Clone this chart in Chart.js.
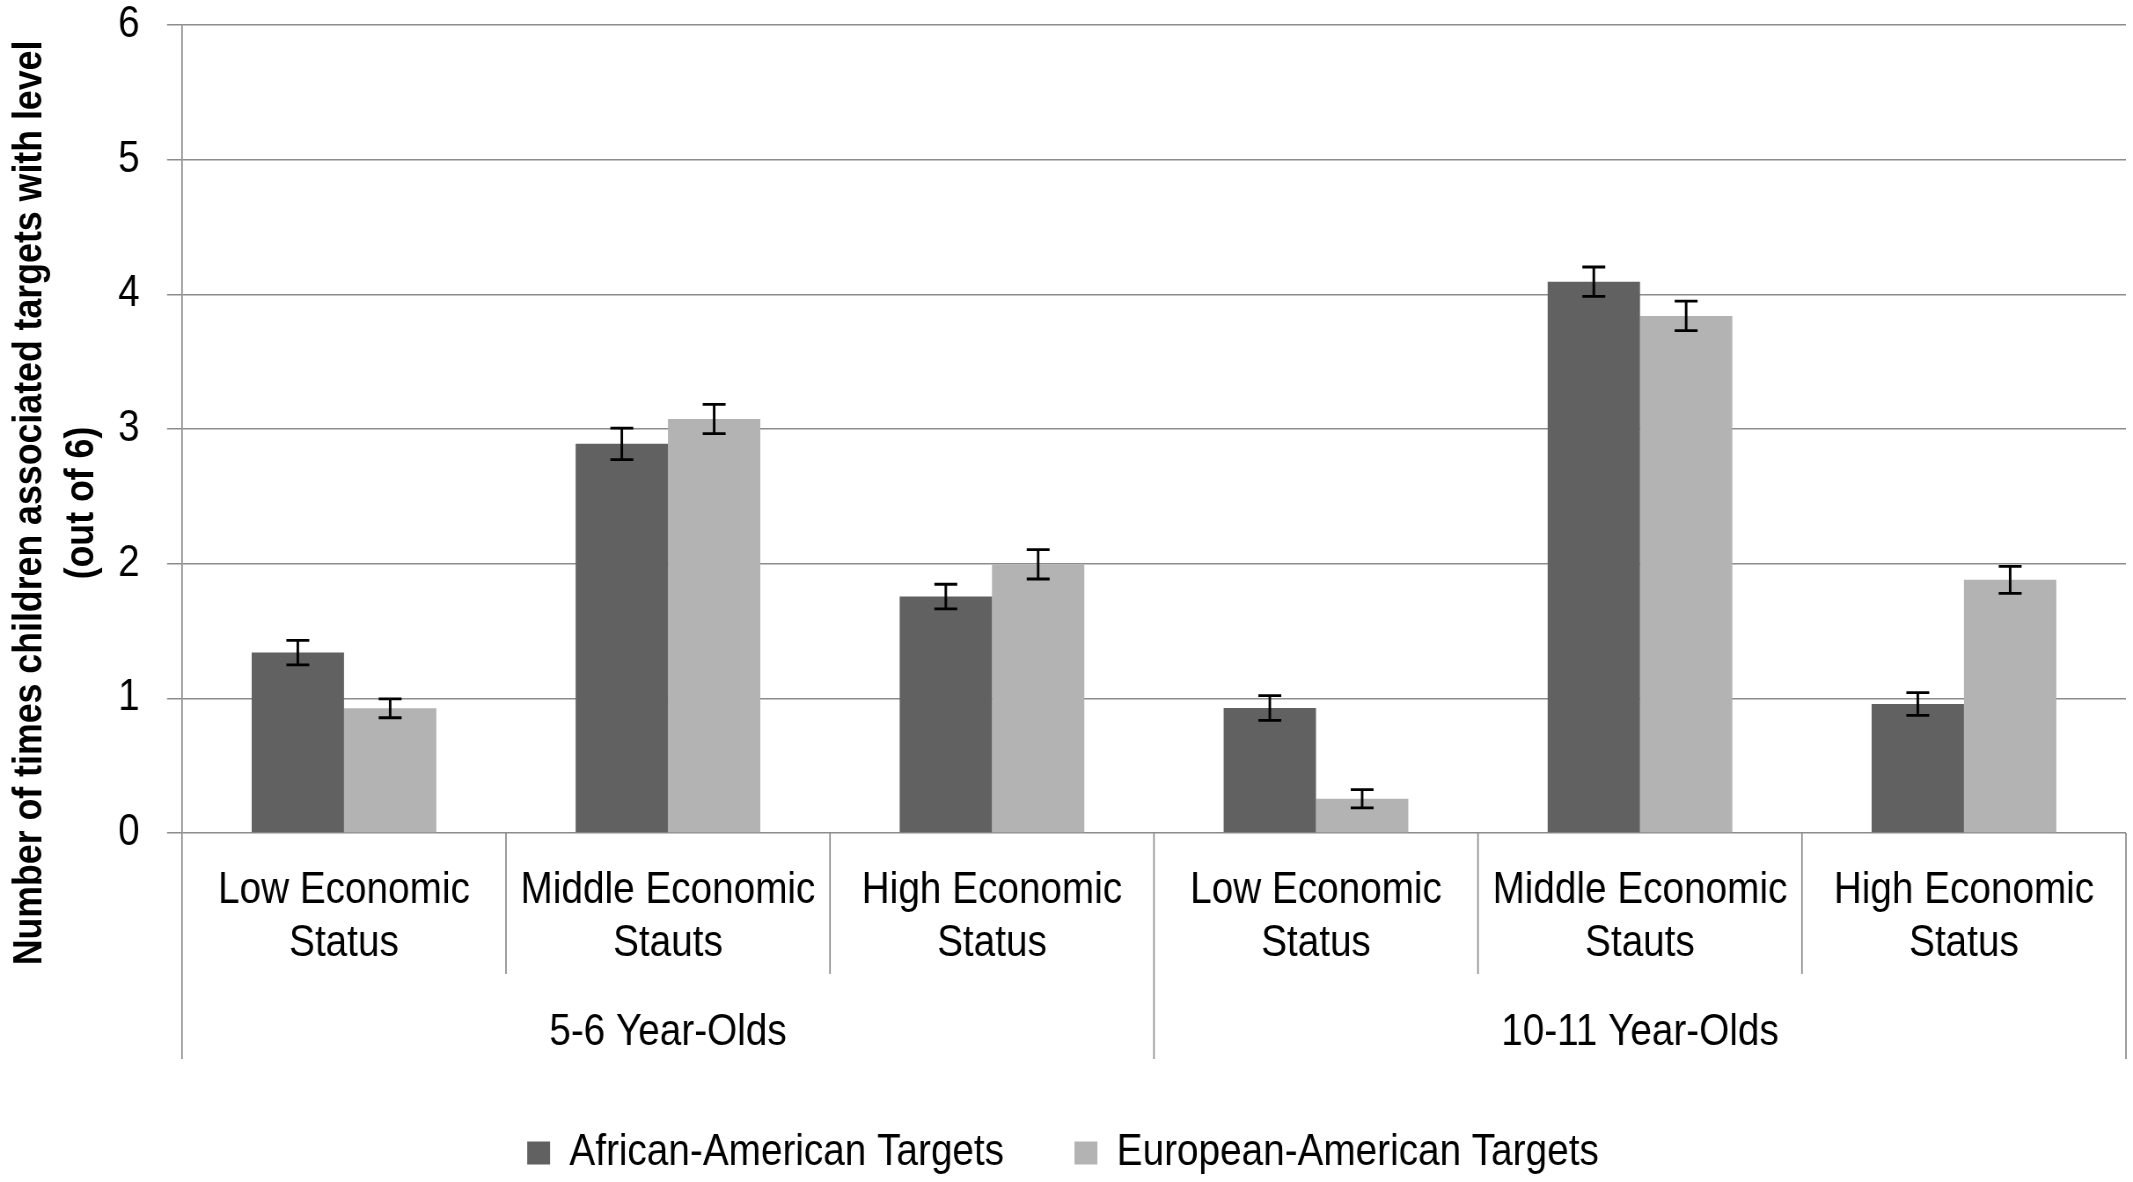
<!DOCTYPE html>
<html><head><meta charset="utf-8">
<script src="https://cdn.jsdelivr.net/npm/chart.js@4.4.1/dist/chart.umd.min.js"></script>
<style>
html,body{margin:0;padding:0;background:#fff;overflow:hidden;width:2133px;height:1182px;}
#wrap{width:2424px;height:1182px;transform:scaleX(0.87995);transform-origin:0 0;}
canvas{display:block;}
</style></head><body>
<div id="wrap"><canvas id="c" width="2424" height="1182" style="width:2424px;height:1182px"></canvas></div>
<script>
const categories = [
  ['Low Economic','Status'], ['Middle Economic','Stauts'], ['High Economic','Status'],
  ['Low Economic','Status'], ['Middle Economic','Stauts'], ['High Economic','Status']
];
const groupLabels = ['5-6 Year-Olds', '10-11 Year-Olds'];
const seriesNames = ['African-American Targets', 'European-American Targets'];
const africanAmerican = [1.34, 2.89, 1.756, 0.928, 4.094, 0.958];
const europeanAmerican = [0.926, 3.074, 1.995, 0.254, 3.84, 1.88];
const africanAmericanErr = [0.091, 0.117, 0.091, 0.092, 0.109, 0.084];
const europeanAmericanErr = [0.07, 0.109, 0.109, 0.068, 0.109, 0.1];
const yMin = 0, yMax = 6, yStep = 1;
const yTitleLines = ['Number of times children associated targets with level', '(out of 6)'];

const SX = 0.87995;
const FAMILY = '"Liberation Sans", Arial, sans-serif';
const GRID = '#8c8c8c';

const errorBars = {
  id: 'errorBars',
  afterDatasetsDraw(chart) {
    const ctx = chart.ctx, ys = chart.scales.y;
    const errs = [africanAmericanErr, europeanAmericanErr];
    ctx.save();
    ctx.strokeStyle = '#000';
    chart.data.datasets.forEach((ds, di) => {
      const meta = chart.getDatasetMeta(di);
      meta.data.forEach((bar, i) => {
        const v = ds.data[i], e = errs[di][i];
        const yt = ys.getPixelForValue(v + e), yb = ys.getPixelForValue(v - e);
        ctx.lineWidth = 2.9;
        ctx.beginPath(); ctx.moveTo(bar.x, yt); ctx.lineTo(bar.x, yb); ctx.stroke();
        ctx.lineWidth = 2.8;
        ctx.beginPath();
        ctx.moveTo(bar.x - 13, yt); ctx.lineTo(bar.x + 13, yt);
        ctx.moveTo(bar.x - 13, yb); ctx.lineTo(bar.x + 13, yb);
        ctx.stroke();
      });
    });
    ctx.restore();
  }
};

const dividers = {
  id: 'dividers',
  afterDraw(chart) {
    const ctx = chart.ctx, xs = chart.scales.x;
    const n = xs.getLabels().length;
    const w = (xs.right - xs.left) / n;
    ctx.save();
    ctx.strokeStyle = GRID;
    ctx.lineWidth = 1.7;
    for (let i = 0; i <= n; i++) {
      const x = i < n ? xs.getPixelForValue(i) - w / 2 : xs.getPixelForValue(n - 1) + w / 2;
      const long = (i % (n / groupLabels.length)) === 0;
      ctx.beginPath();
      ctx.moveTo(x, xs.top);
      ctx.lineTo(x, xs.top + (long ? 226 : 141));
      ctx.stroke();
    }
    ctx.restore();
  }
};

const yTitle = {
  id: 'yTitle',
  afterDraw(chart) {
    const ctx = chart.ctx, ys = chart.scales.y;
    const cy = (ys.top + ys.bottom) / 2 + 74;
    const xs = [34, 93];
    ctx.save();
    ctx.font = 'bold 40.6px ' + FAMILY;
    ctx.fillStyle = '#000';
    ctx.textAlign = 'center';
    ctx.textBaseline = 'middle';
    yTitleLines.forEach((t, k) => {
      ctx.save();
      ctx.translate(xs[k], cy);
      ctx.scale(1 / SX, SX);
      ctx.rotate(-Math.PI / 2);
      ctx.fillText(t, 0, 0);
      ctx.restore();
    });
    ctx.restore();
  }
};

new Chart(document.getElementById('c'), {
  type: 'bar',
  data: {
    labels: categories,
    datasets: [
      { label: seriesNames[0], data: africanAmerican, backgroundColor: '#616161', borderWidth: 0, xAxisID: 'x', categoryPercentage: 0.57, barPercentage: 1.0 },
      { label: seriesNames[1], data: europeanAmerican, backgroundColor: '#b3b3b3', borderWidth: 0, xAxisID: 'x', categoryPercentage: 0.57, barPercentage: 1.0 }
    ]
  },
  options: {
    responsive: false,
    animation: false,
    devicePixelRatio: 1,
    layout: { padding: { left: 0, right: 8, top: 25, bottom: -3 } },
    plugins: {
      legend: {
        position: 'bottom',
        labels: { font: { family: FAMILY, size: 44 }, color: '#000', boxWidth: 26, boxHeight: 23, padding: 80 }
      },
      tooltip: { enabled: false },
      title: { display: false }
    },
    scales: {
      x: {
        type: 'category', position: 'bottom', offset: true, weight: 0,
        grid: { display: false, drawTicks: false },
        border: { display: false },
        ticks: { font: { family: FAMILY, size: 44, lineHeight: 1.216 }, color: '#000', padding: 31, autoSkip: false, maxRotation: 0, minRotation: 0 },
        afterFit(s) { s.height = 135; }
      },
      x2: {
        type: 'category', labels: groupLabels, position: 'bottom', offset: true, weight: 1,
        grid: { display: false, drawTicks: false },
        border: { display: false },
        ticks: { font: { family: FAMILY, size: 44, lineHeight: 1.216 }, color: '#000', padding: 38, autoSkip: false, maxRotation: 0, minRotation: 0 },
        afterFit(s) { s.height = 83; }
      },
      y: {
        min: yMin, max: yMax,
        ticks: { stepSize: yStep, font: { family: FAMILY, size: 44, lineHeight: 1 }, color: '#000', padding: 31 },
        grid: { color: GRID, lineWidth: 1.5, tickLength: 17, drawTicks: true },
        border: { display: true, color: GRID, width: 1.7 },
        afterFit(s) { s.width = 206.8; s.paddingTop = 0; s.paddingBottom = 0; }
      }
    }
  },
  plugins: [errorBars, dividers, yTitle]
});
</script>
</body></html>
